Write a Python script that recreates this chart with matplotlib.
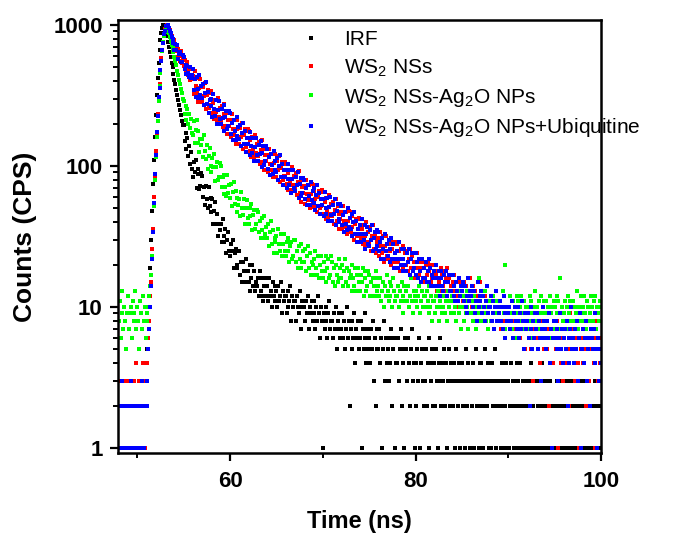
import numpy as np
import matplotlib
matplotlib.use('Agg')
import matplotlib.pyplot as plt
from matplotlib.ticker import MultipleLocator, LogLocator, NullFormatter

# TCSPC decay counts, one value per 0.1 ns channel starting at 48.0 ns
# (each row below = 1 ns)
t_start = 48.0
t_step = 0.1

irf = [
    0, 0, 0, 0, 0, 0, 0, 0, 0, 0,
    0, 0, 0, 0, 0, 0, 0, 0, 0, 0,
    0, 0, 0, 0, 0, 0, 0, 0, 0, 0,
    3, 5, 8, 12, 19, 30, 48, 75, 110, 160,
    230, 320, 420, 540, 660, 780, 880, 950, 1000, 990,
    950, 880, 830, 760, 700, 640, 590, 540, 500, 450,
    410, 380, 345, 320, 295, 270, 250, 230, 210, 195,
    195, 150, 172, 132, 158, 118, 138, 104, 125, 96,
    84, 106, 90, 110, 70, 88, 95, 69, 72, 89,
    85, 60, 71, 53, 72, 58, 50, 71, 52, 59,
    47, 58, 39, 48, 56, 39, 46, 32, 39, 35,
    39, 29, 42, 32, 29, 36, 24, 30, 34, 25,
    23, 28, 25, 30, 19, 24, 26, 19, 20, 25,
    25, 17, 21, 15, 21, 18, 15, 22, 15, 18,
    15, 20, 13, 16, 20, 14, 18, 13, 15, 14,
    16, 12, 18, 13, 12, 16, 11, 14, 16, 12,
    14, 11, 16, 12, 13, 10, 15, 12, 14, 11,
    13, 10, 14, 11, 12, 15, 9, 13, 11, 12,
    12, 9, 13, 10, 11, 14, 8, 12, 10, 11,
    11, 8, 12, 10, 9, 13, 10, 7, 11, 10,
    10, 8, 11, 9, 12, 7, 10, 9, 11, 8,
    9, 11, 7, 10, 8, 12, 9, 6, 10, 8,
    1, 9, 7, 10, 8, 6, 9, 11, 7, 8,
    8, 6, 9, 7, 10, 5, 8, 7, 9, 6,
    7, 9, 6, 8, 5, 7, 10, 6, 8, 2,
    7, 5, 8, 6, 9, 4, 7, 6, 8, 5,
    6, 8, 1, 7, 5, 9, 6, 4, 7, 5,
    6, 4, 7, 5, 8, 3, 6, 2, 7, 5,
    5, 7, 4, 6, 1, 5, 8, 3, 6, 4,
    5, 3, 6, 4, 7, 2, 5, 6, 1, 4,
    4, 6, 3, 5, 7, 2, 5, 4, 1, 6,
    5, 3, 6, 4, 2, 5, 7, 3, 4, 1,
    4, 2, 5, 3, 6, 1, 4, 5, 3, 2,
    3, 5, 2, 4, 6, 1, 4, 3, 5, 2,
    4, 2, 5, 3, 1, 4, 6, 3, 2, 4,
    3, 5, 2, 4, 1, 3, 5, 2, 4, 3,
    2, 4, 3, 1, 5, 3, 2, 4, 1, 3,
    4, 2, 3, 1, 5, 3, 2, 4, 3, 1,
    3, 2, 4, 1, 3, 5, 2, 3, 1, 4,
    2, 4, 3, 1, 2, 5, 3, 2, 4, 1,
    3, 1, 4, 2, 3, 2, 5, 1, 3, 2,
    2, 3, 1, 4, 2, 3, 1, 2, 4, 3,
    3, 1, 2, 4, 2, 3, 1, 3, 2, 4,
    1, 3, 2, 4, 1, 2, 3, 2, 1, 3,
    2, 3, 1, 2, 4, 1, 3, 2, 1, 3,
    3, 1, 2, 3, 1, 2, 4, 1, 2, 3,
    1, 2, 3, 1, 2, 3, 1, 2, 4, 1,
    2, 1, 3, 2, 1, 2, 3, 1, 2, 3,
    1, 3, 2, 1, 2, 3, 1, 2, 1, 3,
    2, 1, 2, 3, 1, 2, 1, 3, 2, 1,
    1, 2, 3, 1, 2, 1, 2, 3, 1, 2,
    2, 1, 2, 1, 3, 2, 1, 2, 1, 2,
    2,
]

ws2 = [
    2, 1, 3, 2, 0, 1, 2, 3, 1, 2,
    1, 3, 2, 2, 1, 0, 3, 1, 2, 4,
    2, 1, 3, 1, 2, 3, 4, 2, 1, 3,
    3, 4, 6, 8, 12, 15, 26, 36, 60, 82,
    128, 165, 235, 290, 380, 460, 580, 650, 760, 840,
    940, 970, 1000, 985, 940, 920, 860, 840, 780, 760,
    785, 651, 694, 594, 678, 601, 552, 649, 541, 572,
    513, 562, 464, 502, 543, 445, 485, 406, 441, 414,
    435, 326, 474, 369, 331, 423, 286, 360, 412, 307,
    286, 364, 315, 390, 253, 317, 348, 257, 270, 342,
    330, 237, 282, 214, 293, 243, 211, 304, 223, 258,
    212, 267, 188, 232, 275, 193, 238, 168, 211, 192,
    212, 160, 234, 182, 165, 211, 144, 182, 211, 158,
    144, 185, 161, 201, 131, 165, 182, 136, 144, 183,
    177, 127, 152, 116, 160, 133, 115, 167, 124, 143,
    117, 147, 104, 129, 154, 107, 133, 94, 119, 108,
    120, 91, 133, 104, 94, 121, 83, 105, 121, 91,
    84, 108, 94, 117, 77, 97, 107, 80, 85, 107,
    104, 75, 89, 68, 94, 78, 68, 99, 73, 85,
    70, 89, 62, 77, 92, 64, 79, 56, 71, 64,
    72, 54, 80, 63, 57, 73, 50, 63, 74, 55,
    51, 66, 58, 73, 47, 60, 66, 50, 52, 68,
    65, 46, 56, 42, 59, 49, 43, 62, 46, 54,
    44, 56, 39, 49, 58, 41, 52, 36, 46, 42,
    47, 36, 52, 41, 37, 47, 33, 41, 48, 36,
    34, 44, 37, 47, 30, 39, 42, 32, 33, 43,
    42, 31, 36, 28, 38, 32, 27, 40, 29, 34,
    29, 37, 25, 32, 38, 26, 33, 24, 29, 27,
    31, 23, 34, 27, 24, 32, 21, 27, 32, 23,
    22, 28, 25, 30, 20, 26, 29, 21, 22, 29,
    28, 21, 25, 18, 26, 22, 19, 27, 20, 24,
    20, 25, 18, 22, 26, 19, 23, 16, 21, 19,
    21, 16, 24, 19, 17, 21, 15, 19, 21, 16,
    15, 20, 17, 21, 14, 18, 20, 15, 16, 20,
    20, 14, 17, 13, 18, 15, 13, 19, 14, 17,
    14, 18, 13, 16, 19, 13, 16, 11, 14, 13,
    15, 11, 17, 13, 12, 15, 10, 13, 15, 12,
    13, 11, 15, 10, 14, 12, 9, 13, 11, 16,
    12, 10, 14, 9, 13, 11, 8, 12, 10, 15,
    11, 9, 13, 10, 8, 12, 10, 14, 9, 11,
    10, 8, 12, 9, 11, 7, 10, 13, 8, 9,
    9, 11, 7, 10, 8, 12, 9, 6, 10, 8,
    8, 10, 7, 9, 11, 6, 8, 10, 7, 9,
    9, 7, 10, 6, 8, 11, 7, 9, 5, 8,
    7, 9, 6, 8, 10, 5, 7, 3, 8, 6,
    8, 6, 9, 7, 4, 8, 6, 10, 5, 7,
    6, 8, 5, 7, 2, 9, 6, 7, 4, 8,
    7, 5, 8, 6, 1, 7, 9, 4, 6, 3,
    6, 8, 4, 7, 5, 2, 6, 9, 5, 7,
    5, 7, 3, 6, 8, 4, 1, 6, 5, 10,
    6, 4, 7, 5, 2, 8, 6, 3, 5, 7,
    5, 7, 4, 6, 1, 8, 5, 3, 6, 4,
    6,
]

ws2_ag2o = [
    8, 11, 6, 9, 13, 7, 10, 8, 5, 9,
    12, 7, 9, 10, 6, 11, 8, 9, 13, 7,
    10, 8, 5, 11, 9, 7, 12, 8, 10, 6,
    9, 8, 10, 12, 14, 17, 23, 34, 52, 80,
    115, 160, 210, 290, 370, 460, 560, 650, 760, 840,
    890, 940, 960, 930, 880, 820, 770, 720, 690, 640,
    590, 560, 520, 470, 440, 410, 380, 350, 330, 300,
    290, 232, 268, 212, 252, 200, 234, 186, 214, 172,
    167, 209, 146, 179, 211, 146, 178, 125, 156, 140,
    155, 115, 166, 127, 113, 142, 95, 118, 135, 100,
    91, 114, 99, 121, 78, 98, 107, 79, 83, 105,
    100, 71, 84, 63, 86, 71, 61, 87, 64, 73,
    59, 75, 52, 65, 77, 54, 66, 47, 59, 53,
    58, 44, 65, 50, 45, 58, 39, 50, 57, 43,
    39, 50, 44, 54, 35, 45, 49, 36, 39, 49,
    47, 34, 41, 31, 43, 35, 31, 44, 33, 37,
    31, 39, 27, 34, 41, 28, 35, 24, 31, 29,
    32, 24, 36, 28, 25, 33, 23, 28, 33, 25,
    23, 29, 25, 31, 21, 27, 29, 22, 23, 30,
    30, 21, 25, 19, 27, 22, 19, 28, 21, 25,
    21, 26, 18, 23, 27, 19, 24, 17, 21, 20,
    22, 17, 25, 19, 17, 23, 16, 20, 23, 18,
    16, 21, 18, 23, 15, 19, 22, 16, 17, 23,
    21, 15, 19, 14, 20, 17, 15, 22, 16, 19,
    16, 20, 14, 18, 22, 15, 19, 14, 18, 16,
    17, 13, 20, 16, 14, 19, 13, 17, 19, 15,
    13, 17, 15, 19, 12, 16, 18, 13, 14, 18,
    17, 12, 15, 12, 16, 14, 12, 18, 13, 16,
    14, 12, 16, 11, 13, 15, 10, 14, 12, 17,
    13, 11, 15, 12, 14, 10, 16, 13, 11, 12,
    12, 14, 10, 13, 11, 15, 12, 9, 14, 11,
    13, 11, 14, 10, 12, 16, 11, 9, 13, 12,
    11, 13, 10, 12, 14, 9, 11, 13, 10, 12,
    12, 10, 13, 11, 9, 14, 10, 12, 8, 11,
    11, 9, 12, 10, 13, 8, 11, 10, 12, 9,
    10, 12, 9, 11, 8, 13, 10, 11, 9, 12,
    11, 9, 12, 10, 8, 11, 13, 9, 10, 7,
    10, 12, 8, 11, 9, 13, 10, 7, 11, 9,
    9, 11, 8, 12, 10, 7, 11, 9, 16, 10,
    11, 8, 10, 12, 9, 13, 8, 10, 7, 11,
    10, 8, 11, 9, 12, 7, 10, 9, 11, 8,
    9, 11, 8, 10, 13, 9, 7, 20, 10, 8,
    10, 8, 12, 9, 7, 11, 9, 10, 6, 12,
    9, 11, 8, 10, 12, 7, 9, 11, 8, 10,
    10, 7, 9, 12, 8, 11, 9, 6, 10, 13,
    8, 10, 9, 11, 7, 12, 9, 10, 8, 11,
    9, 11, 8, 10, 6, 12, 9, 10, 7, 11,
    10, 8, 12, 9, 11, 7, 16, 9, 10, 8,
    9, 11, 8, 10, 12, 7, 9, 11, 8, 10,
    11, 8, 10, 9, 13, 7, 10, 8, 12, 9,
    8, 10, 12, 9, 7, 11, 10, 8, 9, 12,
    10, 8, 11, 9, 12, 7, 10, 9, 8, 11,
    10,
]

ws2_ag2o_ubq = [
    1, 2, 2, 1, 3, 1, 0, 2, 1, 2,
    2, 1, 1, 3, 2, 1, 2, 0, 1, 2,
    1, 2, 1, 2, 1, 3, 2, 1, 2, 2,
    2, 3, 5, 7, 10, 14, 22, 34, 55, 88,
    120, 175, 225, 310, 360, 480, 560, 670, 740, 860,
    910, 990, 980, 1000, 960, 900, 880, 820, 800, 740,
    662, 735, 666, 726, 576, 626, 642, 544, 547, 611,
    589, 488, 520, 447, 514, 459, 425, 501, 419, 444,
    484, 346, 411, 310, 427, 352, 305, 439, 320, 369,
    306, 384, 269, 332, 392, 274, 336, 236, 296, 267,
    297, 224, 325, 254, 228, 292, 198, 249, 287, 214,
    197, 253, 220, 272, 178, 223, 246, 183, 192, 245,
    236, 169, 203, 154, 213, 176, 154, 222, 164, 189,
    155, 196, 138, 171, 203, 143, 176, 125, 158, 143,
    159, 120, 175, 138, 124, 159, 108, 137, 159, 119,
    109, 140, 122, 151, 99, 124, 138, 102, 109, 138,
    133, 96, 115, 87, 121, 101, 88, 128, 94, 109,
    90, 114, 80, 100, 119, 84, 103, 73, 93, 84,
    93, 70, 103, 81, 73, 94, 64, 81, 94, 70,
    66, 84, 73, 91, 59, 74, 82, 61, 64, 82,
    80, 58, 70, 53, 73, 61, 53, 77, 57, 66,
    55, 70, 49, 62, 73, 52, 64, 46, 58, 53,
    58, 44, 65, 50, 46, 59, 41, 51, 60, 45,
    41, 53, 46, 58, 38, 48, 54, 40, 42, 54,
    52, 38, 45, 34, 47, 39, 35, 50, 37, 43,
    36, 46, 32, 40, 47, 33, 41, 29, 36, 33,
    38, 29, 42, 33, 30, 38, 26, 33, 37, 28,
    27, 35, 30, 38, 25, 31, 34, 26, 27, 35,
    34, 25, 29, 22, 31, 26, 22, 33, 25, 28,
    23, 30, 21, 26, 31, 22, 28, 19, 24, 22,
    25, 19, 29, 22, 20, 26, 18, 22, 26, 20,
    18, 24, 21, 26, 17, 22, 24, 18, 19, 24,
    24, 17, 21, 16, 22, 18, 15, 22, 16, 19,
    16, 21, 15, 18, 22, 15, 19, 14, 17, 16,
    18, 14, 20, 16, 14, 18, 12, 16, 18, 14,
    13, 17, 15, 18, 12, 15, 17, 13, 13, 17,
    17, 12, 14, 11, 15, 13, 11, 16, 12, 14,
    13, 15, 11, 14, 10, 12, 9, 16, 11, 13,
    12, 14, 10, 13, 9, 11, 8, 15, 10, 12,
    11, 13, 9, 12, 10, 8, 11, 14, 9, 10,
    10, 12, 8, 11, 9, 7, 10, 13, 8, 10,
    9, 11, 8, 10, 7, 12, 9, 6, 10, 8,
    9, 10, 7, 8, 11, 6, 9, 10, 8, 7,
    8, 10, 6, 9, 7, 11, 8, 5, 9, 7,
    8, 9, 6, 2, 7, 10, 5, 8, 6, 9,
    7, 9, 5, 8, 6, 3, 7, 10, 6, 8,
    7, 5, 8, 6, 9, 4, 7, 1, 6, 8,
    6, 8, 5, 7, 3, 6, 9, 5, 7, 4,
    6, 7, 5, 8, 2, 6, 4, 7, 10, 5,
    6, 4, 7, 5, 8, 3, 6, 9, 1, 5,
    5, 7, 4, 6, 8, 3, 5, 6, 2, 7,
    6, 5, 7, 4, 9, 5, 1, 6, 3, 5,
    4,
]

labels = ['IRF', 'WS$_2$ NSs', 'WS$_2$ NSs-Ag$_2$O NPs',
          'WS$_2$ NSs-Ag$_2$O NPs+Ubiquitine']
colors = ['#000000', '#ff0000', '#00ff00', '#0000ff']

plt.rcParams['font.family'] = ['Liberation Sans', 'DejaVu Sans']
plt.rcParams['mathtext.default'] = 'regular'

fig = plt.figure(figsize=(6.75, 5.38), dpi=100)
ax = fig.add_axes([0.1748, 0.158, 0.7156, 0.8048])

for counts, color, label in zip([irf, ws2, ws2_ag2o, ws2_ag2o_ubq], colors, labels):
    c = np.array(counts, dtype=float)
    t = t_start + t_step * np.arange(len(c))
    keep = c > 0
    ax.plot(t[keep], c[keep], 's', ms=2.5, mew=0, color=color, label=label)

ax.set_yscale('log')
ax.set_xlim(47.92, 100)
ax.set_ylim(0.922, 1085)
ax.set_yticks([1, 10, 100, 1000])
ax.set_yticklabels(['1', '10', '100', '1000'])
ax.yaxis.set_minor_locator(LogLocator(base=10, subs=range(2, 10)))
ax.yaxis.set_minor_formatter(NullFormatter())
ax.xaxis.set_major_locator(MultipleLocator(20))
ax.xaxis.set_minor_locator(MultipleLocator(10))

ax.tick_params(which='major', direction='out', length=6, width=1.6, pad=5,
               labelsize=16)
ax.tick_params(axis='x', which='major', pad=7)
ax.tick_params(which='minor', direction='out', length=3.5, width=1.4)
for lab in ax.get_xticklabels() + ax.get_yticklabels():
    lab.set_fontweight('bold')
for sp in ax.spines.values():
    sp.set_linewidth(1.8)

ax.set_xlabel('Time (ns)', fontsize=17, fontweight='bold', labelpad=13)
ax.set_ylabel('Counts (CPS)', fontsize=19, fontweight='bold', labelpad=12)

ax.legend(loc='upper left', bbox_to_anchor=(0.368, 1.0), frameon=False,
          fontsize=15, handlelength=0.5, handletextpad=1.3, labelspacing=0.38,
          borderpad=0, markerscale=1.2)

fig.savefig('out.png', dpi=100)
